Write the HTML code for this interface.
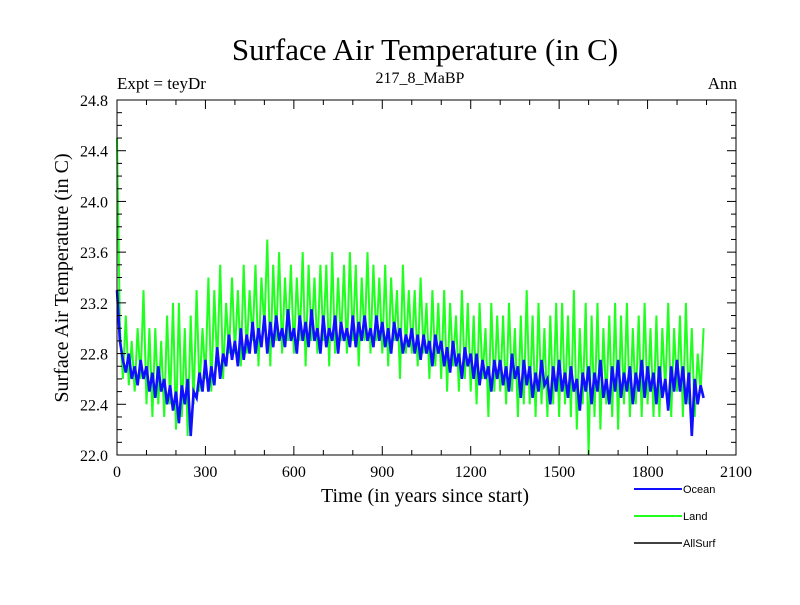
<!DOCTYPE html>
<html><head><meta charset="utf-8"><style>
body{margin:0;background:#fff}
svg text{font-family:"Liberation Serif",serif}
</style></head><body>
<svg id="c" width="800" height="600" xmlns="http://www.w3.org/2000/svg">
<rect width="800" height="600" fill="#fff"/>
<text x="425" y="60" font-size="31" text-anchor="middle">Surface Air Temperature (in C)</text>
<text x="117" y="89" font-size="17">Expt = teyDr</text>
<text x="420" y="83" font-size="16" text-anchor="middle">217_8_MaBP</text>
<text x="737" y="89" font-size="17" text-anchor="end">Ann</text>
<text x="425" y="502" font-size="20" text-anchor="middle">Time (in years since start)</text>
<text transform="translate(68,278) rotate(-90)" font-size="20" text-anchor="middle">Surface Air Temperature (in C)</text>
<g id="plot"></g>
<g id="axes"></g>
<g>
<line x1="634" y1="489" x2="682" y2="489" stroke="#1010ff" stroke-width="2"/>
<text x="683" y="493" font-size="11" style="font-family:'Liberation Sans',sans-serif">Ocean</text>
<line x1="634" y1="516" x2="682" y2="516" stroke="#20ff20" stroke-width="2"/>
<text x="683" y="520" font-size="11" style="font-family:'Liberation Sans',sans-serif">Land</text>
<line x1="634" y1="543" x2="682" y2="543" stroke="#000" stroke-width="1.5"/>
<text x="683" y="547" font-size="11" style="font-family:'Liberation Sans',sans-serif">AllSurf</text>
</g>
</svg>
<script>
const xTicks=[0,300,600,900,1200,1500,1800,2100];
const yTicks=[22.0,22.4,22.8,23.2,23.6,24.0,24.4,24.8];
const yearStep=10;
const ocean=[23.3,22.9,22.75,22.65,22.8,22.6,22.7,22.55,22.75,22.6,
22.7,22.5,22.65,22.45,22.7,22.5,22.6,22.4,22.55,22.35,
22.5,22.25,22.55,22.4,22.6,22.15,22.5,22.45,22.65,22.5,
22.75,22.5,22.7,22.55,22.85,22.6,22.8,22.7,22.95,22.75,
22.9,22.7,23.0,22.75,22.95,22.8,23.05,22.8,23.0,22.85,
23.1,22.8,23.05,22.85,23.1,22.9,23.0,22.85,23.15,22.9,
23.0,22.8,23.1,22.9,23.05,22.85,23.15,22.9,23.0,22.8,
23.1,22.85,23.0,22.9,23.1,22.8,23.05,22.9,23.0,22.85,
23.1,22.85,23.05,22.9,23.1,22.9,23.0,22.85,23.1,22.9,
23.05,22.85,23.0,22.8,23.05,22.9,23.0,22.8,22.95,22.85,
23.0,22.8,22.95,22.75,22.95,22.8,22.9,22.7,22.95,22.8,
22.9,22.7,22.85,22.65,22.9,22.7,22.8,22.6,22.85,22.7,
22.8,22.6,22.8,22.55,22.75,22.6,22.7,22.5,22.75,22.6,
22.75,22.55,22.7,22.5,22.8,22.6,22.7,22.45,22.75,22.55,
22.7,22.45,22.65,22.5,22.75,22.55,22.6,22.4,22.7,22.5,
22.75,22.5,22.65,22.45,22.7,22.5,22.6,22.35,22.65,22.5,
22.7,22.4,22.65,22.5,22.75,22.45,22.6,22.4,22.7,22.5,
22.75,22.45,22.65,22.5,22.7,22.4,22.65,22.5,22.75,22.45,
22.7,22.5,22.65,22.4,22.7,22.45,22.6,22.35,22.7,22.5,
22.75,22.5,22.7,22.4,22.65,22.15,22.6,22.4,22.55,22.45];
const land=[24.5,23.0,22.6,23.1,22.55,22.9,22.5,23.0,22.6,23.3,
22.4,23.0,22.3,23.0,22.4,22.9,22.3,23.1,22.4,23.2,
22.2,23.2,22.3,23.0,22.15,23.1,22.4,23.3,22.5,23.0,
22.6,23.4,22.5,23.3,22.7,23.5,22.6,23.2,22.8,23.4,
22.8,23.3,22.7,23.5,22.8,23.3,22.9,23.5,22.7,23.4,
23.0,23.7,22.7,23.5,22.9,23.6,22.8,23.4,22.9,23.5,
22.8,23.4,22.9,23.6,22.7,23.5,22.9,23.4,22.8,23.5,
22.9,23.5,22.7,23.6,22.8,23.4,22.9,23.5,22.8,23.6,
22.9,23.5,22.7,23.4,22.9,23.6,22.8,23.5,22.9,23.4,
22.8,23.5,22.7,23.4,22.9,23.3,22.6,23.5,22.8,23.3,
22.8,23.3,22.7,23.4,22.8,23.2,22.6,23.3,22.7,23.2,
22.6,23.3,22.5,23.2,22.7,23.1,22.5,23.3,22.6,23.2,
22.5,23.1,22.4,23.2,22.6,23.0,22.3,23.2,22.5,23.1,
22.5,23.1,22.4,23.2,22.5,23.0,22.3,23.1,22.4,23.3,
22.4,23.1,22.3,23.2,22.4,23.0,22.3,23.1,22.4,23.2,
22.3,23.2,22.4,23.1,22.3,23.3,22.2,23.0,22.4,23.2,
22.0,23.1,22.3,23.2,22.2,23.0,22.4,23.1,22.3,23.2,
22.2,23.1,22.4,23.2,22.3,23.0,22.4,23.1,22.3,23.2,
22.4,23.0,22.3,23.1,22.3,23.0,22.5,23.2,22.3,23.0,
22.5,23.1,22.3,23.2,22.4,23.0,22.3,22.8,22.5,23.0];
const L=117,R=736,T=100,B=455;
const X=v=>L+(v-0)/(2100-0)*(R-L);
const Y=v=>B-(v-22.0)/(24.8-22.0)*(B-T);
const NS="http://www.w3.org/2000/svg";
const plot=document.getElementById('plot'),axes=document.getElementById('axes');
function mk(tag,attrs,parent){const e=document.createElementNS(NS,tag);for(const k in attrs)e.setAttribute(k,attrs[k]);parent.appendChild(e);return e;}
function series(arr,color,w,name){
  const pts=arr.map((v,i)=>X(i*yearStep).toFixed(1)+','+Y(v).toFixed(1)).join(' ');
  const p=mk('polyline',{points:pts,fill:'none',stroke:color,'stroke-width':w,'stroke-linejoin':'miter'},plot);
  
  
}
series(land,'#20ff20',2,'land-series');
series(ocean,'#1010ff',2.6,'ocean-series');
const frame=mk('rect',{x:L,y:T,width:R-L,height:B-T,fill:'none',stroke:'#000','stroke-width':1},axes);


for(let v=0;v<=2100;v+=100){
  const major=v%300===0, len=major?9:5, x=X(v);
  mk('line',{x1:x,y1:B,x2:x,y2:B-len,stroke:'#000'},axes);
  mk('line',{x1:x,y1:T,x2:x,y2:T+len,stroke:'#000'},axes);
}
xTicks.forEach(v=>{
  const t=mk('text',{x:X(v),y:B+22,'font-size':16,'text-anchor':'middle'},axes);
  t.textContent=String(v);
  
  
});
for(let i=0;i<=28;i++){
  const v=22.0+i*0.1, major=i%4===0, len=major?9:5, y=Y(v);
  mk('line',{x1:L,y1:y,x2:L+len,y2:y,stroke:'#000'},axes);
  mk('line',{x1:R,y1:y,x2:R-len,y2:y,stroke:'#000'},axes);
}
yTicks.forEach(v=>{
  const t=mk('text',{x:L-9,y:Y(v)+6,'font-size':16,'text-anchor':'end'},axes);
  t.textContent=v.toFixed(1);
  
  
});
</script>
</body></html>
